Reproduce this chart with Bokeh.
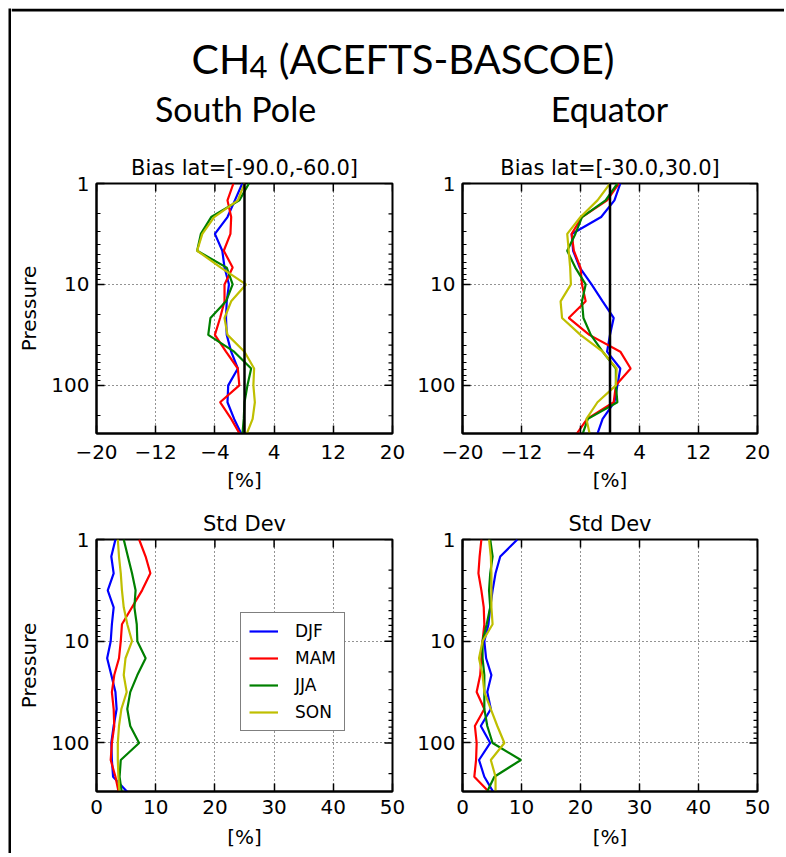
import math
from bokeh.plotting import figure
from bokeh.layouts import row, column
from bokeh.models import (Range1d, FixedTicker, Legend, BoxAnnotation,
                          LegendItem, Label, Span, CustomJSTickFormatter)
from bokeh.embed import file_html
from bokeh.resources import INLINE

# ---------------- data ----------------
pressure = [1.0, 1.47, 2.15, 3.16, 4.64, 6.81, 10.0, 14.7, 21.5, 31.6,
            46.4, 68.1, 100.0, 147.0, 215.0, 316.0]

season_names = ["DJF", "MAM", "JJA", "SON"]
season_colors = ["#0000ff", "#ff0000", "#008000", "#bfbf00"]

bias_ticks = [-20, -12, -4, 4, 12, 20]
sd_ticks = [0, 10, 20, 30, 40, 50]
p_top, p_bottom = 1, 300
p_major = [1, 10, 100]
p_minor = [2, 3, 4, 5, 6, 7, 8, 9, 20, 30, 40, 50, 60, 70, 80, 90, 200, 300]

# South Pole bias [%]
sp_bias_djf = [-0.3, -1.3, -2.3, -4.0, -3.0, -2.7, -2.1, -2.4, -2.5, -2.4, -1.8, -0.9, -2.2, -2.3, -1.4, -0.3]
sp_bias_mam = [-1.5, -2.3, -1.8, -1.9, -2.8, -1.6, -2.7, -2.7, -3.3, -4.0, -2.5, -0.9, -0.7, -3.3, -1.8, -0.5]
sp_bias_jja = [0.6, -0.7, -4.5, -5.9, -6.4, -2.4, -1.6, -2.5, -4.6, -4.9, -1.4, 0.9, 0.4, 0.0, -0.1, -0.3]
sp_bias_son = [0.0, -0.9, -4.1, -5.7, -6.4, -3.2, 0.2, -1.8, -2.7, -2.3, 0.0, 1.3, 1.2, 1.4, 1.1, 0.2]

# Equator bias [%]
eq_bias_djf = [1.4, 0.6, -1.2, -5.2, -5.0, -4.1, -2.5, -1.0, 0.5, 0.0, -0.4, 1.4, 1.0, 0.6, -1.0, -1.8]
eq_bias_mam = [1.2, -0.4, -3.8, -5.2, -4.9, -4.0, -3.8, -3.3, -5.6, -2.8, 1.4, 2.8, 0.8, 0.5, -3.1, -4.7]
eq_bias_jja = [1.0, -0.6, -3.8, -4.7, -5.8, -4.7, -3.3, -3.8, -3.6, -2.6, -1.0, 0.8, 0.8, 1.0, -3.0, -3.8]
eq_bias_son = [0.0, -1.7, -4.0, -5.8, -5.6, -5.4, -5.3, -6.7, -6.5, -4.0, -1.0, 0.9, 0.8, -1.7, -3.2, -2.7]

# South Pole std dev [%]
sp_sd_djf = [3.2, 2.5, 2.9, 1.9, 2.9, 2.6, 2.4, 1.8, 2.5, 3.2, 3.4, 2.9, 2.5, 2.6, 2.8, 5.5]
sp_sd_mam = [7.2, 8.3, 9.1, 7.7, 6.0, 4.3, 4.1, 3.8, 3.0, 2.6, 2.9, 3.0, 2.6, 2.4, 3.2, 3.8]
sp_sd_jja = [4.6, 5.3, 6.0, 6.6, 6.4, 6.8, 6.9, 8.3, 6.9, 5.7, 5.2, 5.7, 7.2, 4.1, 3.9, 4.3]
sp_sd_son = [3.6, 3.8, 4.1, 4.3, 4.6, 5.2, 6.0, 4.9, 4.6, 5.1, 4.2, 3.8, 3.6, 3.6, 3.7, 3.9]

# Equator std dev [%]
eq_sd_djf = [9.3, 6.4, 5.6, 5.1, 4.7, 4.4, 3.7, 4.0, 4.9, 4.2, 4.8, 3.1, 4.7, 2.8, 3.7, 5.4]
eq_sd_mam = [3.2, 2.9, 2.7, 3.2, 3.6, 3.7, 3.4, 3.2, 3.0, 2.4, 3.7, 2.1, 2.4, 2.3, 2.0, 4.8]
eq_sd_jja = [4.7, 5.1, 4.7, 4.5, 4.7, 4.1, 3.4, 3.4, 3.7, 3.7, 3.7, 4.2, 5.1, 9.9, 5.4, 4.0]
eq_sd_son = [4.5, 4.8, 4.9, 4.9, 4.9, 5.1, 3.4, 2.8, 3.4, 3.7, 4.8, 5.9, 7.1, 4.8, 5.6, 5.6]

TXT = "DejaVu Sans"
HEAD = "Lato"


def style_axis(ax, tick_standoff):
    ax.axis_line_color = "black"
    ax.axis_line_width = 2
    ax.major_tick_in = 8
    ax.major_tick_out = 0
    ax.minor_tick_in = 4
    ax.minor_tick_out = 0
    ax.major_tick_line_color = "black"
    ax.major_tick_line_width = 1.5
    ax.minor_tick_line_color = "black"
    ax.minor_tick_line_width = 1.2
    ax.major_label_text_font = TXT
    ax.major_label_text_color = "black"
    ax.major_label_text_font_size = "20px"
    ax.major_label_standoff = tick_standoff
    ax.axis_label_text_font = TXT
    ax.axis_label_text_font_size = "20px"
    ax.axis_label_text_font_style = "normal"
    ax.axis_label_text_color = "black"


def panel(width, height, borders, xticks, title, series, ylabel,
          zero_line, xlab_standoff, xlab_label_standoff, legend_loc=None):
    mb_l, mb_r, mb_t, mb_b = borders
    x0, x1 = xticks[0], xticks[-1]
    p = figure(width=width, height=height,
               x_range=Range1d(x0, x1), y_range=Range1d(p_bottom, p_top),
               y_axis_type="log", title=title,
               output_backend="svg", toolbar_location=None,
               min_border_left=mb_l, min_border_right=mb_r,
               min_border_top=mb_t, min_border_bottom=mb_b,
               outline_line_color="black", outline_line_width=2,
               background_fill_color="white", border_fill_color="white")
    xt = FixedTicker(ticks=xticks, minor_ticks=[])
    yt = FixedTicker(ticks=p_major, minor_ticks=p_minor)
    bx = p.below[0]
    ly = p.left[0]
    bx.ticker = xt
    ly.ticker = yt
    p.xgrid.ticker = xt
    p.ygrid.ticker = yt
    bx.formatter = CustomJSTickFormatter(
        code="return tick < 0 ? '\\u2212' + String(-tick) : String(tick);")
    ly.formatter = CustomJSTickFormatter(code="return String(tick);")
    style_axis(bx, xlab_standoff)
    style_axis(ly, 7)
    bx.axis_label = "[%]"
    bx.axis_label_standoff = xlab_label_standoff
    if ylabel:
        ly.axis_label = ylabel
        ly.axis_label_standoff = 7

    for g in (p.xgrid[0], p.ygrid[0]):
        g.grid_line_color = "black"
        g.grid_line_alpha = 0.85
        g.grid_line_dash = "1 3"
        g.grid_line_width = 1

    p.title.align = "center"
    p.title.text_font = TXT
    p.title.text_font_size = "21px"
    p.title.text_font_style = "normal"
    p.title.text_color = "black"
    p.title.standoff = 8

    # inward tick marks on the top and right edges (half of each dash is clipped)
    p.scatter(x=xticks, y=[p_top] * len(xticks), marker="dash", size=16,
              angle=math.pi / 2, line_color="black", line_width=1.5)
    p.scatter(x=[x1] * len(p_major), y=p_major, marker="dash", size=16,
              line_color="black", line_width=1.5)
    p.scatter(x=[x1] * len(p_minor), y=p_minor, marker="dash", size=8,
              line_color="black", line_width=1.2)

    if zero_line:
        p.add_layout(Span(location=0, dimension="height", line_color="black",
                          line_width=2.5))

    items = []
    for name, color, vals in zip(season_names, season_colors, series):
        r = p.line(x=vals, y=pressure, line_color=color, line_width=2.2)
        items.append(LegendItem(label=name, renderers=[r]))

    if legend_loc is not None:
        leg = Legend(items=items, location=legend_loc,
                     border_line_color="black", border_line_width=1.5,
                     background_fill_color="white", background_fill_alpha=1,
                     label_text_font=TXT, label_text_font_size="17px",
                     label_text_color="black",
                     glyph_width=29, glyph_height=20, label_height=20,
                     spacing=7, padding=8, label_standoff=17, margin=0)
        p.add_layout(leg)
    return p


def bar(w, h, color):
    b = figure(width=w, height=h, min_border=0, toolbar_location=None,
               x_axis_location=None, y_axis_location=None, title=None,
               outline_line_color=None, background_fill_color=color,
               border_fill_color=color, output_backend="svg")
    b.grid.visible = False
    return b


# left column panels span page x 11-405, right column 405-776
tl = panel(394, 365, (85, 13, 43, 72), bias_ticks, "Bias lat=[-90.0,-60.0]",
           [sp_bias_djf, sp_bias_mam, sp_bias_jja, sp_bias_son], "Pressure",
           True, 11, 6)
tr = panel(371, 365, (57, 19, 43, 72), bias_ticks, "Bias lat=[-30.0,30.0]",
           [eq_bias_djf, eq_bias_mam, eq_bias_jja, eq_bias_son], None,
           True, 11, 6)
bl = panel(394, 348, (85, 13, 34, 62), sd_ticks, "Std Dev",
           [sp_sd_djf, sp_sd_mam, sp_sd_jja, sp_sd_son], "Pressure",
           False, 8, 8, legend_loc=(144, 60))
br = panel(371, 348, (57, 19, 34, 62), sd_ticks, "Std Dev",
           [eq_sd_djf, eq_sd_mam, eq_sd_jja, eq_sd_son], None,
           False, 8, 8)

# header (data coordinates equal page pixels), includes the top frame line
hdr = figure(width=773, height=132, x_range=Range1d(11, 784), y_range=Range1d(140, 8),
             title=None, output_backend="svg", toolbar_location=None, min_border=0,
             x_axis_location=None, y_axis_location=None, outline_line_color=None)
hdr.grid.visible = False
hdr.add_layout(BoxAnnotation(left=11, right=784, top=8, bottom=11,
                             fill_color="black", fill_alpha=1, line_alpha=0))
hdr.add_layout(Label(x=191, y=58, text="CH", text_font=HEAD, text_font_size="41px",
                     text_align="left", text_baseline="alphabetic", text_color="black"))
hdr.add_layout(Label(x=249, y=66, text="4", text_font=HEAD, text_font_size="31px",
                     text_align="left", text_baseline="alphabetic", text_color="black"))
hdr.add_layout(Label(x=614, y=58, text="(ACEFTS-BASCOE)", text_font=HEAD,
                     text_font_size="40px", text_align="right",
                     text_baseline="alphabetic", text_color="black"))
hdr.add_layout(Label(x=235, y=108, text="South Pole", text_font=HEAD,
                     text_font_size="34px", text_align="center",
                     text_baseline="alphabetic", text_color="black"))
hdr.add_layout(Label(x=609, y=108, text="Equator", text_font=HEAD,
                     text_font_size="34px", text_align="center",
                     text_baseline="alphabetic", text_color="black"))

content = column(hdr, row(tl, tr), row(bl, br))
layout = column(bar(784, 8, "white"),
                row(bar(8, 845, "white"), bar(3, 845, "black"), content))

open("out.html", "w").write(file_html(layout, INLINE))
